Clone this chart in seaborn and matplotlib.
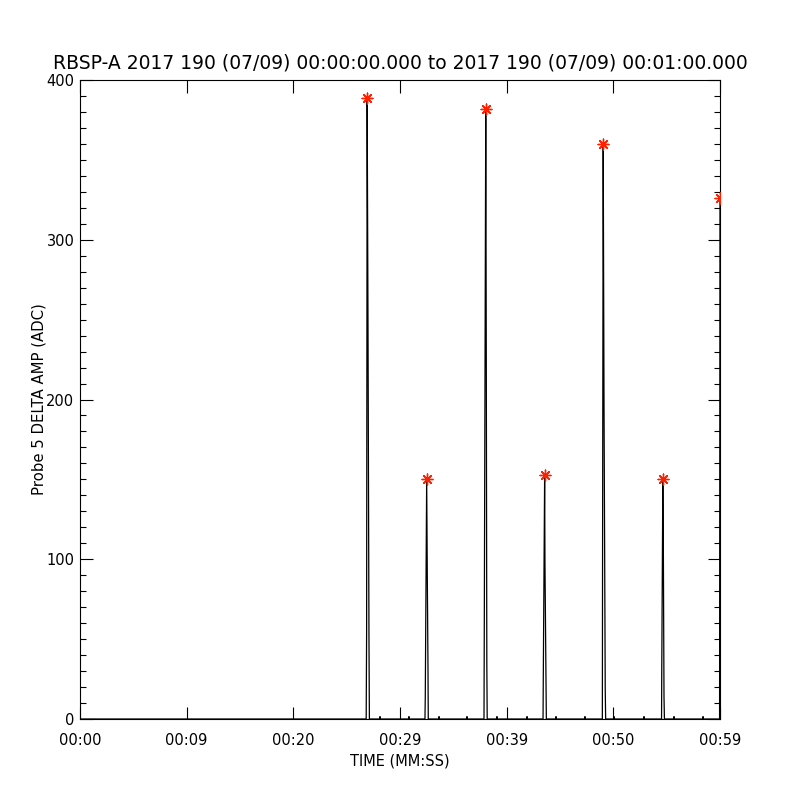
import numpy as np
import pandas as pd
import matplotlib
matplotlib.use("Agg")
import matplotlib.pyplot as plt
import seaborn as sns
from matplotlib.ticker import MultipleLocator, FixedLocator, FixedFormatter

# ---- data (seconds since 00:00:00, amplitude in ADC) ----
spike1_t = [26.83, 26.87, 26.92, 27.00, 27.09, 27.13]
spike1_a = [0, 54, 389, 247, 52, 0]
spike2_t = [32.34, 32.37, 32.50, 32.56, 32.625, 32.65]
spike2_a = [0, 14, 150, 89, 31, 0]
spike3_t = [37.875, 37.91, 38.04, 38.09, 38.14, 38.175]
spike3_a = [0, 75, 382, 225, 34, 0]
spike4_t = [43.41, 43.43, 43.56, 43.59, 43.69, 43.72]
spike4_a = [0, 22, 153, 98, 22, 0]
spike5_t = [48.97, 48.99, 49.05, 49.125, 49.24, 49.28]
spike5_a = [0, 100, 360, 200, 19, 0]
spike6_t = [54.52, 54.54, 54.64, 54.69, 54.75, 54.79]
spike6_a = [0, 30, 150, 106, 14, 0]
spike7_t = [59.96, 60.0]
spike7_a = [0, 326]

bump_t = [28.10, 28.125, 28.15, 30.81, 30.84, 30.87, 33.63, 33.66, 33.69,
          36.25, 36.28, 36.31, 39.06, 39.09, 39.12, 41.88, 41.91, 41.94,
          44.60, 44.63, 44.66, 47.31, 47.34, 47.37, 50.03, 50.06, 50.09,
          52.845, 52.875, 52.905, 55.66, 55.69, 55.72, 58.38, 58.41, 58.44]
bump_a = [0, 1.5, 0, 0, 1.5, 0, 0, 1.5, 0,
          0, 1.5, 0, 0, 1.5, 0, 0, 1.5, 0,
          0, 1.5, 0, 0, 1.5, 0, 0, 1.5, 0,
          0, 1.5, 0, 0, 1.5, 0, 0, 1.5, 0]
base_t = [0.0]
base_a = [0]

peak_t = [26.92, 32.50, 38.04, 43.56, 49.05, 54.64, 60.0]
peak_a = [389, 150, 382, 153, 360, 150, 326]

xtick_vals = [0, 10, 20, 30, 40, 50, 60]
xtick_labels = ["00:00", "00:09", "00:20", "00:29", "00:39", "00:50", "00:59"]
ytick_vals = [0, 100, 200, 300, 400]

title = "RBSP-A 2017 190 (07/09) 00:00:00.000 to 2017 190 (07/09) 00:01:00.000"

# ---- build frame ----
trace = pd.DataFrame({
    "t": base_t + spike1_t + spike2_t + spike3_t + spike4_t + spike5_t + spike6_t + spike7_t + bump_t,
    "amp": base_a + spike1_a + spike2_a + spike3_a + spike4_a + spike5_a + spike6_a + spike7_a + bump_a,
}).sort_values("t").reset_index(drop=True)
peaks = pd.DataFrame({"t": peak_t, "amp": peak_a})

sns.set_style("ticks")
plt.rcParams["font.family"] = ["DejaVu Sans"]
plt.rcParams["text.color"] = "black"
plt.rcParams["axes.labelcolor"] = "black"
plt.rcParams["xtick.color"] = "black"
plt.rcParams["ytick.color"] = "black"

fig = plt.figure(figsize=(8, 8), dpi=100)
ax = fig.add_axes([0.1, 0.10125, 0.8, 0.79875])

sns.lineplot(data=trace, x="t", y="amp", ax=ax, color="black", linewidth=0.9,
             estimator=None, sort=False)
sns.scatterplot(data=peaks, x="t", y="amp", ax=ax, marker=(8, 2, 0), color="#ff2000",
                s=60, linewidth=1.0, zorder=5)

ax.set_xlim(0, 60)
ax.set_ylim(0, 400)
ax.xaxis.set_major_locator(FixedLocator(xtick_vals))
ax.xaxis.set_major_formatter(FixedFormatter(xtick_labels))
ax.yaxis.set_major_locator(FixedLocator(ytick_vals))
ax.yaxis.set_minor_locator(MultipleLocator(10))

ax.tick_params(axis="both", which="both", direction="in", top=True, right=True,
               color="black", labelcolor="black", width=0.8)
ax.tick_params(axis="both", which="major", length=9)
ax.tick_params(axis="y", which="minor", length=4.5)
ax.tick_params(axis="x", which="major", pad=10, labelsize=10.5)
ax.tick_params(axis="y", which="major", pad=4, labelsize=10.5)
for sp in ax.spines.values():
    sp.set_visible(True)
    sp.set_color("black")
    sp.set_linewidth(0.8)

ax.set_xlabel("TIME (MM:SS)", fontsize=10.5, labelpad=4, color="black")
ax.set_ylabel("Probe 5 DELTA AMP (ADC)", fontsize=10.7, labelpad=0, color="black")
ax.set_title(title, fontsize=13.5, pad=8, color="black")

fig.savefig("out.png", dpi=100, facecolor="white")
